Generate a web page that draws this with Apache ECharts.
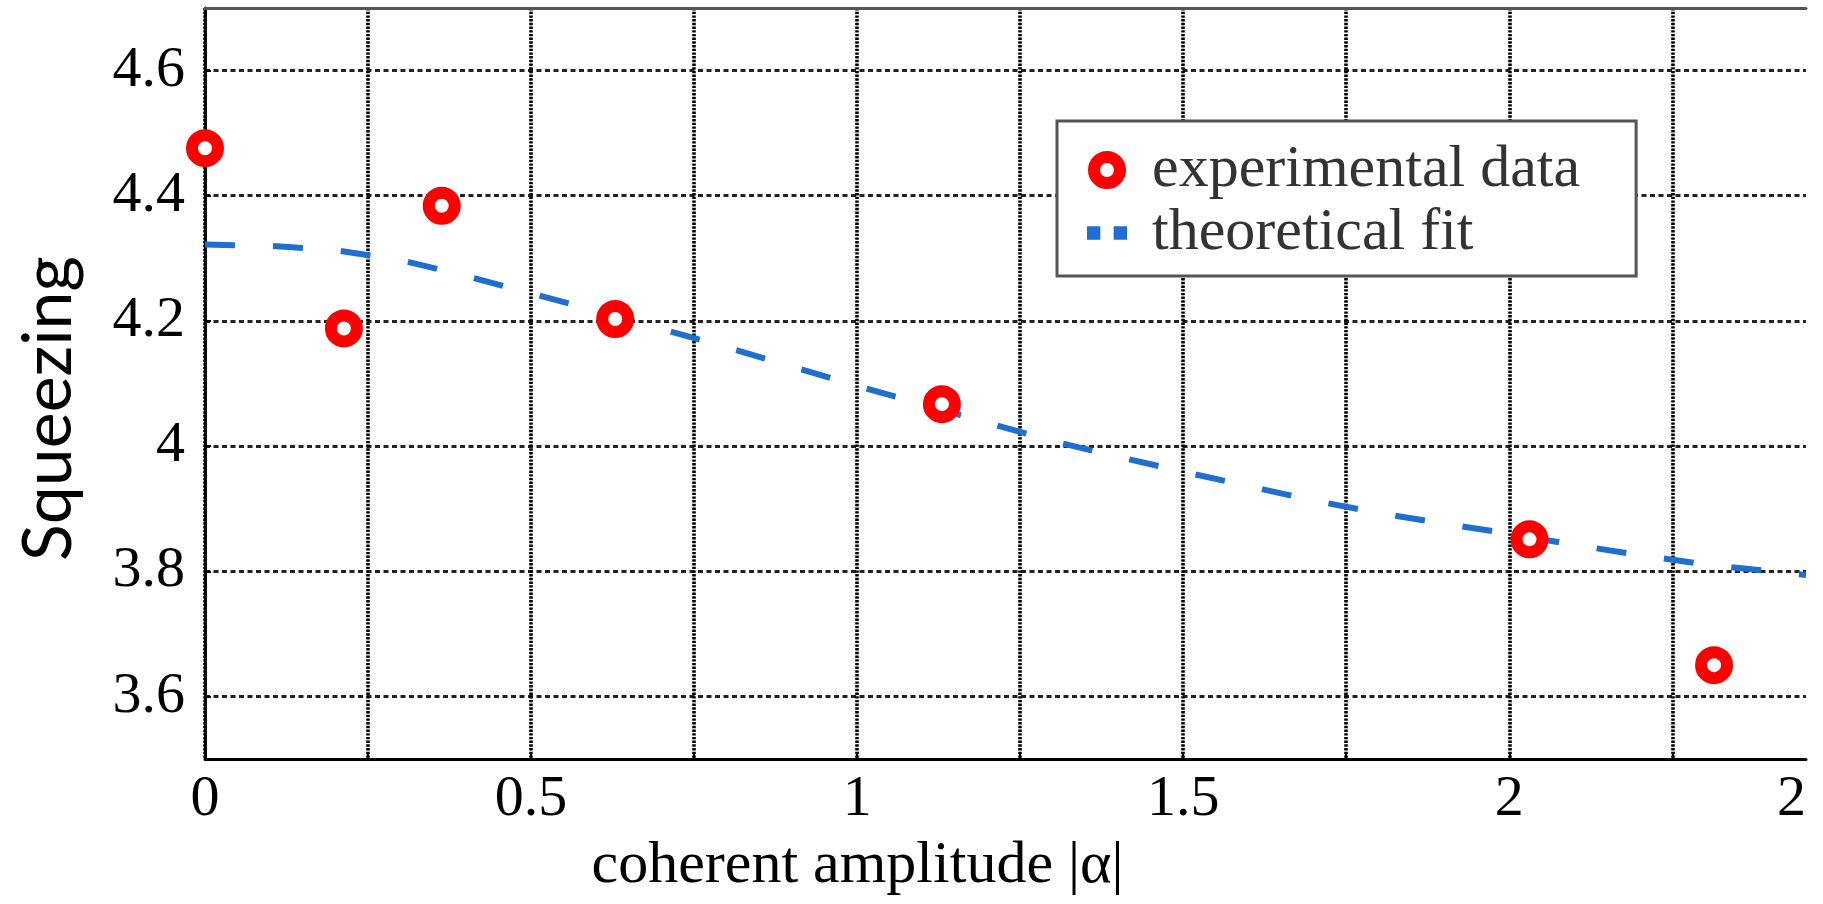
<!DOCTYPE html>
<html><head><meta charset="utf-8">
<script src="https://cdn.jsdelivr.net/npm/echarts@6/dist/echarts.min.js"></script>
<style>html,body{margin:0;padding:0;background:#fff}#c{width:1823px;height:904px}</style>
</head><body><div id="c"></div>
<script>
// experimental data (red circles)
const expX = [0.0, 0.213, 0.363, 0.629, 1.130, 2.031, 2.314];
const expY = [4.476, 4.188, 4.384, 4.203, 4.067, 3.851, 3.650];
// theoretical fit (blue dashed)
const fitX = [0, 0.1, 0.2, 0.3, 0.4, 0.5, 0.6, 0.7, 0.8, 0.9, 1.0, 1.1, 1.2, 1.3, 1.4, 1.5, 1.6, 1.7, 1.8, 1.9, 2.0, 2.1, 2.2, 2.3, 2.4, 2.455];
const fitY = [4.322, 4.320, 4.313, 4.297, 4.272, 4.244, 4.216, 4.187, 4.158, 4.127, 4.096, 4.067, 4.037, 4.008, 3.983, 3.959, 3.936, 3.913, 3.893, 3.876, 3.860, 3.842, 3.826, 3.811, 3.800, 3.794];
// axes
const xMin = 0, xMax = 2.455;
const yMin = 3.5, yMax = 4.7;
const xGridValues = [0, 0.25, 0.5, 0.75, 1, 1.25, 1.5, 1.75, 2, 2.25];
const xLabelValues = [0, 0.5, 1, 1.5, 2, xMax];
const xTickLabels = ['0', '0.5', '1', '1.5', '2', '2'];
const yTickValues = [3.6, 3.8, 4.0, 4.2, 4.4, 4.6];
const yTickLabels = ['3.6', '3.8', '4', '4.2', '4.4', '4.6'];
const seriesNames = ['experimental data', 'theoretical fit'];
const xTitle = 'coherent amplitude |α|';
const yTitle = 'Squeezing';

function pick(vals, labels) {
  return function (v) {
    const i = vals.findIndex(t => Math.abs(t - v) < 1e-6);
    return i >= 0 ? labels[i] : '';
  };
}
const serif = 'Liberation Serif';
const chart = echarts.init(document.getElementById('c'));
chart.setOption({
  animation: false,
  backgroundColor: '#fff',
  grid: { left: 205, right: 17, top: 8, bottom: 145 },
  xAxis: [{
    type: 'value', min: xMin, max: xMax, position: 'bottom',
    axisLine: { show: true, onZero: false, lineStyle: { color: '#000', width: 3 } },
    axisTick: { show: true, inside: true, length: 6, customValues: xGridValues, lineStyle: { color: '#000', width: 2 } },
    axisLabel: { customValues: xLabelValues, formatter: pick(xLabelValues, xTickLabels), margin: 12,
      fontFamily: serif, fontSize: 58, color: '#000', alignMaxLabel: 'right' },
    splitLine: { show: true, lineStyle: { color: '#000', width: 3.6, type: [2.4, 1.3] } },
    name: xTitle, nameLocation: 'middle', nameGap: 77,
    nameTextStyle: { fontFamily: serif, fontSize: 60, color: '#000', padding: [0, 296, 0, 0] }
  }, {
    type: 'value', min: xMin, max: xMax, position: 'top',
    axisLine: { show: true, onZero: false, lineStyle: { color: '#555', width: 3 } },
    axisTick: { show: false }, axisLabel: { show: false }, splitLine: { show: false }
  }],
  yAxis: {
    type: 'value', min: yMin, max: yMax,
    axisLine: { show: true, onZero: false, lineStyle: { color: '#000', width: 3 } },
    axisTick: { show: true, inside: true, length: 6, customValues: yTickValues, lineStyle: { color: '#000', width: 2 } },
    axisLabel: { customValues: yTickValues, formatter: pick(yTickValues, yTickLabels), margin: 20,
      fontFamily: serif, fontSize: 58, color: '#000' },
    splitLine: { show: true, lineStyle: { color: '#222', width: 2.8, type: [5, 3.5] } },
    name: yTitle, nameLocation: 'middle', nameGap: 122, nameRotate: 90,
    nameTextStyle: { fontFamily: 'Lato', fontSize: 68, color: '#000', padding: [0, 50, 0, 0] }
  },
  legend: {
    left: 1057, top: 121, orient: 'vertical',
    backgroundColor: '#fff', borderColor: '#555', borderWidth: 3,
    padding: [19, 56, 13, 30], itemGap: 3, itemWidth: 40, itemHeight: 26,
    selectedMode: false,
    data: [
      { name: seriesNames[0], icon: 'circle', itemStyle: { color: '#fff', borderColor: '#ff0000', borderWidth: 12 } },
      { name: seriesNames[1], icon: 'path://M0,0h13v13h-13z M26,0h13v13h-13z', itemStyle: { color: '#1f6fd0', borderWidth: 0 } }
    ],
    formatter: n => '{t|' + n + '}',
    textStyle: { rich: { t: { fontFamily: serif, fontSize: 60, color: '#333', padding: [0, 0, 0, 20] } } }
  },
  series: [{
    name: seriesNames[1], type: 'line', z: 3,
    data: fitX.map((x, i) => [x, fitY[i]]),
    showSymbol: false, symbol: 'none', silent: true,
    itemStyle: { color: '#1f6fd0' },
    lineStyle: { color: '#1f6fd0', width: 6, type: [30, 38], cap: 'butt' }
  }, {
    name: seriesNames[0], type: 'scatter', z: 5,
    data: expX.map((x, i) => [x, expY[i]]),
    symbol: 'circle', symbolSize: 26, silent: true,
    itemStyle: { color: '#fff', borderColor: '#ff0000', borderWidth: 12, opacity: 1 }
  }]
});
</script></body></html>
